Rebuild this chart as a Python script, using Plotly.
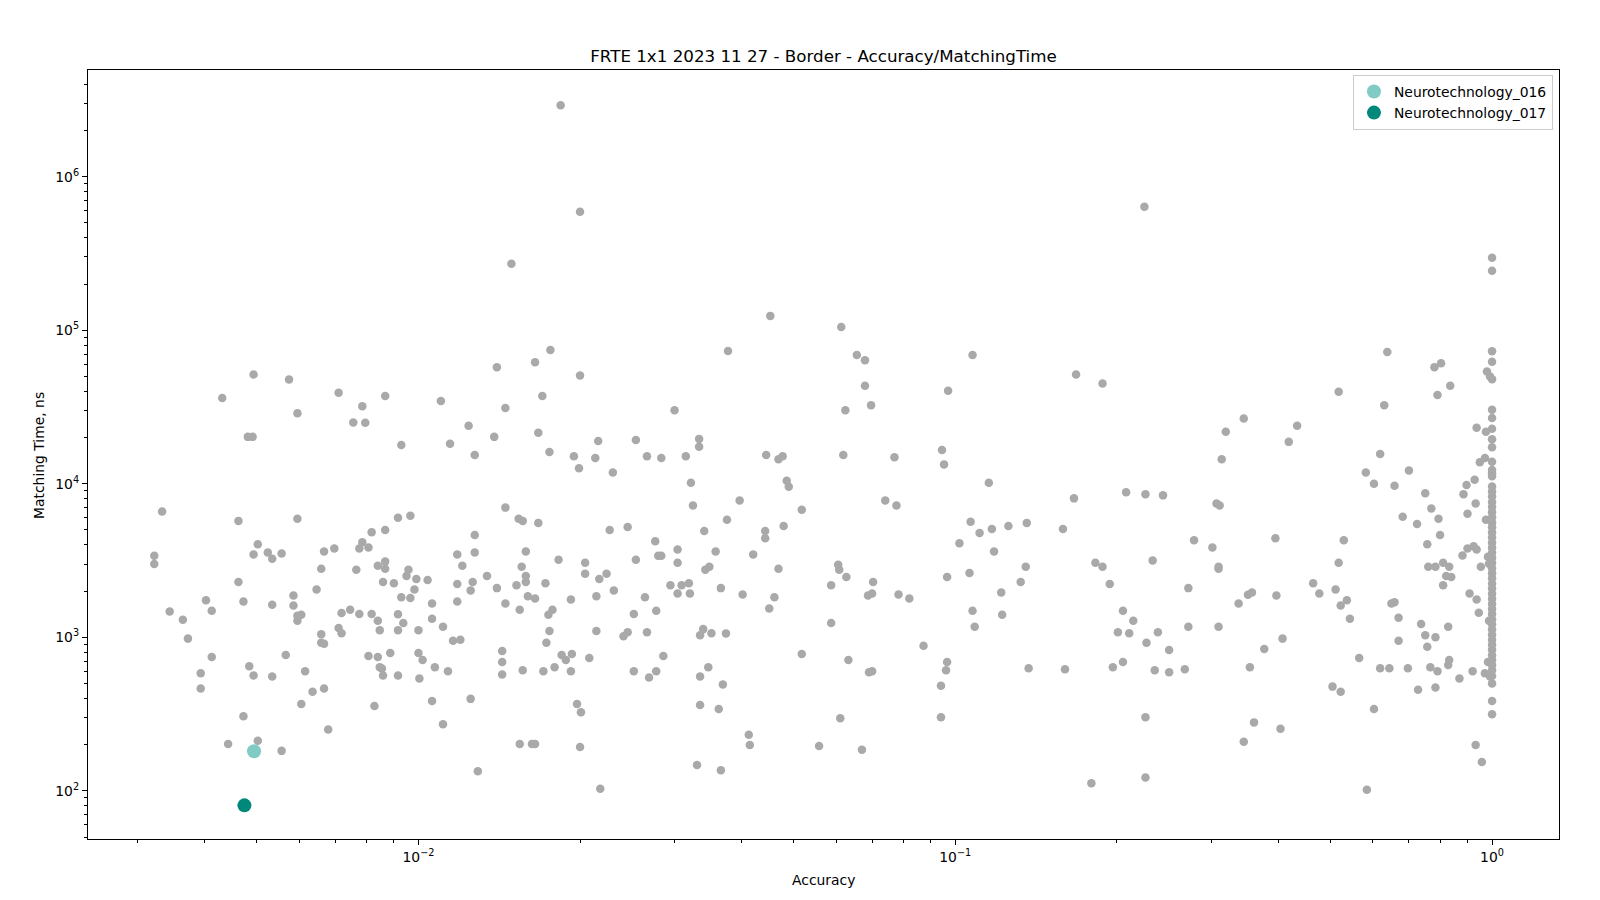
import plotly.graph_objects as go

# ---------------- data ----------------
# other algorithms, accuracy < 0.01
acc_low = [
    0.00322, 0.00322, 0.00333, 0.00344, 0.00364, 0.00372, 0.00393, 0.00393, 0.00402, 0.00412,
    0.00412, 0.00431, 0.00442, 0.00462, 0.00462, 0.00472, 0.00472, 0.00481, 0.00484, 0.00491,
    0.00493, 0.00493, 0.00493, 0.00502, 0.00502, 0.00524, 0.00534, 0.00534, 0.00534, 0.00556,
    0.00556, 0.00566, 0.00574, 0.00585, 0.00585, 0.00595, 0.00595, 0.00595, 0.00595, 0.00605,
    0.00605, 0.00615, 0.00635, 0.00646, 0.00659, 0.00659, 0.00659, 0.00667, 0.00667, 0.00667,
    0.00679, 0.00697, 0.0071, 0.0071, 0.00719, 0.00719, 0.00746, 0.00756, 0.00766, 0.00776,
    0.00786, 0.00786, 0.00776, 0.00807, 0.00796, 0.00807, 0.00818, 0.00818, 0.00828, 0.0084,
    0.0084, 0.00847, 0.0084, 0.00847, 0.00855, 0.00859, 0.00859, 0.00867, 0.00867, 0.00867,
    0.00867, 0.00886, 0.009, 0.00916, 0.00916, 0.00916, 0.00916, 0.00929, 0.00929, 0.00937,
    0.0095, 0.00958, 0.00966, 0.00966, 0.00983, 0.00991,
]
time_low = [
    3400, 3000, 6600, 1470, 1300, 980, 582, 463, 1740, 1490,
    744, 36200, 202, 5730, 2290, 1710, 306, 20200, 648, 20200,
    51500, 3460, 564, 4030, 212, 3570, 3250, 1630, 556, 3510,
    182, 767, 47700, 1870, 1610, 28800, 5910, 1380, 1280, 1400,
    368, 600, 442, 2050, 2790, 1047, 921, 3620, 907, 463,
    251, 3790, 39100, 1150, 1440, 1063, 1510, 25100, 2750, 1420,
    32000, 4160, 3790, 3850, 25000, 755, 4840, 1420, 357, 2920,
    1280, 1110, 744, 638, 625, 2290, 564, 37300, 4990, 3110,
    2790, 790, 2250, 6000, 1410, 1110, 564, 17900, 1820, 1240,
    2510, 2750, 6190, 1800, 2050, 2400,
]

# other algorithms, 0.01 <= accuracy < 0.03
acc_mid1 = [
    0.01, 0.01, 0.01004, 0.01018, 0.0104, 0.0106, 0.0106, 0.0106, 0.01073, 0.01101,
    0.01111, 0.01111, 0.01135, 0.01145, 0.0116, 0.01181, 0.01181, 0.01181, 0.01197, 0.01207,
    0.0124, 0.01251, 0.01262, 0.01251, 0.01273, 0.01273, 0.01273, 0.0129, 0.01342, 0.01384,
    0.014, 0.014, 0.01432, 0.01432, 0.01432, 0.01452, 0.01452, 0.01452, 0.0149, 0.01523,
    0.01537, 0.01544, 0.01544, 0.01557, 0.01564, 0.01564, 0.01585, 0.01585, 0.01585, 0.01599,
    0.01627, 0.01649, 0.01649, 0.01649, 0.01672, 0.01672, 0.01701, 0.01709, 0.01724, 0.01731,
    0.01761, 0.01754, 0.01746, 0.01754, 0.01777, 0.01793, 0.01824, 0.0184, 0.01848, 0.01882,
    0.01923, 0.01923, 0.01931, 0.01948, 0.01991, 0.02, 0.01974, 0.02, 0.02008, 0.02,
    0.02044, 0.02044, 0.02081, 0.02135, 0.02145, 0.02145, 0.02162, 0.02172, 0.02181, 0.02241,
    0.02271, 0.02302, 0.02312, 0.0241, 0.02453, 0.02453, 0.02519, 0.02519, 0.02541, 0.02541,
    0.02642, 0.02665, 0.02665, 0.02689, 0.02773, 0.02761, 0.02773, 0.02797, 0.02834, 0.02834,
    0.02859, 0.02947,
]
time_mid1 = [
    1110, 790, 539, 710, 2360, 385, 1660, 1320, 638, 34600,
    271, 1170, 600, 18200, 950, 2220, 1710, 3460, 965, 2920,
    23900, 2020, 2290, 397, 15400, 4630, 3570, 134, 2510, 20200,
    57300, 2090, 815, 689, 573, 6990, 1660, 31100, 271000, 2180,
    5910, 1510, 202, 2880, 5730, 609, 3620, 2510, 2290, 1850,
    202, 61900, 202, 1790, 5560, 21500, 37300, 600, 2250, 921,
    74400, 16100, 1400, 1100, 1510, 638, 3200, 2920000, 767, 710,
    600, 1760, 779, 15100, 12600, 50700, 368, 591000, 325, 193,
    3060, 2590, 732, 14700, 1850, 1100, 19000, 2400, 103, 2590,
    4990, 11840, 2020, 1015, 1080, 5230, 600, 1420, 19300, 3200,
    1820, 15100, 1080, 547, 600, 4220, 1490, 3400, 3400, 14700,
    755, 2180,
]

# other algorithms, 0.03 <= accuracy < 0.1
acc_mid2 = [
    0.03, 0.03039, 0.03039, 0.03039, 0.03092, 0.0319, 0.03204, 0.03148, 0.03218, 0.03246,
    0.03303, 0.03333, 0.03333, 0.03347, 0.03347, 0.03347, 0.03392, 0.03407, 0.03423, 0.03467,
    0.03483, 0.03514, 0.03578, 0.03626, 0.03659, 0.03659, 0.0369, 0.0374, 0.03756, 0.03773,
    0.03966, 0.04017, 0.04124, 0.04143, 0.04203, 0.04425, 0.04425, 0.04444, 0.04503, 0.04523,
    0.04603, 0.04685, 0.04685, 0.04769, 0.0479, 0.04853, 0.04896, 0.05177, 0.05177, 0.05576,
    0.05872, 0.05872, 0.06053, 0.06079, 0.06106, 0.06132, 0.06186, 0.06241, 0.06268, 0.06323,
    0.06556, 0.06701, 0.06789, 0.06789, 0.06878, 0.06908, 0.06969, 0.07, 0.0703, 0.07,
    0.07406, 0.07704, 0.07771, 0.0784, 0.08212, 0.08728, 0.09406, 0.09406, 0.09447, 0.0953,
    0.09656, 0.09614, 0.09656, 0.09698,
]
time_mid2 = [
    30100, 3060, 3730, 1930, 2180, 2250, 1930, 15100, 10150, 7210,
    147, 19600, 17400, 1030, 556, 362, 1130, 4920, 2750, 638,
    2880, 1063, 3620, 341, 136, 2090, 492, 1060, 5820, 73200,
    7790, 1900, 232, 199, 3460, 4920, 4420, 15400, 1540, 124000,
    1820, 14450, 2790, 15100, 5310, 10470, 9550, 6780, 779, 196,
    1240, 2180, 2970, 2750, 297, 105000, 15400, 30100, 2470, 710,
    68900, 185, 63800, 43500, 1870, 591, 32500, 1930, 2290, 600,
    7790, 14900, 7210, 1900, 1790, 880, 301, 484, 16600, 13370,
    2470, 609, 689, 40300,
]

# other algorithms, 0.1 <= accuracy < 1
acc_high = [
    0.1018, 0.1068, 0.1063, 0.1077, 0.1077, 0.1087, 0.111, 0.1155, 0.117, 0.1181,
    0.1218, 0.1223, 0.1256, 0.1324, 0.1353, 0.1359, 0.137, 0.1587, 0.1601, 0.1664,
    0.1679, 0.1793, 0.1824, 0.1881, 0.1881, 0.194, 0.1966, 0.2009, 0.2053, 0.2053,
    0.2081, 0.2109, 0.2146, 0.2251, 0.2261, 0.2261, 0.2271, 0.2261, 0.2332, 0.2353,
    0.2385, 0.2438, 0.2503, 0.2503, 0.2677, 0.2718, 0.2718, 0.2785, 0.3013, 0.3067,
    0.3094, 0.3094, 0.3108, 0.3094, 0.3136, 0.3191, 0.3372, 0.3447, 0.3447, 0.351,
    0.3539, 0.357, 0.3602, 0.3764, 0.3948, 0.3965, 0.4035, 0.4071, 0.4181, 0.4334,
    0.4642, 0.4767, 0.5044, 0.5111, 0.5179, 0.5179, 0.5224, 0.5224, 0.5294, 0.5364,
    0.5435, 0.5656, 0.5819, 0.5845, 0.6026, 0.6026, 0.6188, 0.6188, 0.6297, 0.6381,
    0.6437, 0.6494, 0.6581, 0.6581, 0.6697, 0.6697, 0.6816, 0.6969, 0.7, 0.7249,
    0.7281, 0.7377, 0.7508, 0.7508, 0.7574, 0.7607, 0.7574, 0.7674, 0.7707, 0.781,
    0.7844, 0.7844, 0.7844, 0.7914, 0.7914, 0.7948, 0.8, 0.8035, 0.8106, 0.8106,
    0.8213, 0.8285, 0.8321, 0.8321, 0.8285, 0.8358, 0.8395, 0.8694, 0.8809, 0.8847,
    0.8964, 0.9, 0.9, 0.908, 0.924, 0.92, 0.928, 0.932, 0.936, 0.936,
    0.932, 0.936, 0.9447, 0.9488, 0.953, 0.9572, 0.9698, 0.974, 0.974, 0.9783,
    0.987, 0.9826, 0.9826, 0.9913, 0.987, 0.9913, 0.97,
]
time_high = [
    4090, 5650, 2620, 68900, 1490, 1170, 4770, 10150, 5070, 3620,
    1960, 1400, 5310, 2290, 2880, 5560, 628, 5070, 619, 8030,
    51500, 112, 3060, 2880, 44900, 2220, 638, 1080, 689, 1490,
    8800, 1063, 1280, 638000, 8530, 301, 921, 122, 3160, 609,
    1080, 8400, 827, 591, 619, 2090, 1170, 4290, 3850, 7440,
    1170, 2880, 7210, 2790, 14450, 21800, 1660, 26600, 209, 1890,
    638, 1960, 279, 840, 4420, 1870, 254, 980, 18740, 23900,
    2250, 1930, 477, 2050, 39700, 3060, 442, 1610, 4290, 1740,
    1320, 732, 11840, 101.5, 10000, 341, 15600, 628, 32500, 72100,
    628, 1660, 9700, 1690, 950, 1340, 6090, 628, 12200, 5470,
    455, 1220, 8660, 1030, 866, 2880, 4030, 638, 6890, 57300,
    2880, 470, 1000, 600, 37900, 5910, 4630, 60900, 3060, 2180,
    2510, 1170, 2880, 710, 660, 43500, 2470, 539, 3410, 8530,
    9800, 6380, 3790, 1930, 3910, 600, 10630, 7440, 3730, 1760,
    199, 23200, 1445, 13800, 2880, 154, 582, 21800, 5820, 53900,
    1280, 689, 3350, 49900, 3010, 556, 14700,
]

# other algorithms with accuracy = 1.0
acc_perfect = [
    1.0, 1.0, 1.0, 1.0, 1.0, 1.0, 1.0, 1.0, 1.0, 1.0,
    1.0, 1.0, 1.0, 1.0, 1.0, 1.0, 1.0, 1.0, 1.0, 1.0,
    1.0, 1.0, 1.0, 1.0, 1.0, 1.0, 1.0, 1.0, 1.0, 1.0,
    1.0, 1.0, 1.0, 1.0, 1.0, 1.0, 1.0, 1.0, 1.0, 1.0,
    1.0, 1.0, 1.0, 1.0, 1.0, 1.0, 1.0, 1.0, 1.0, 1.0,
    1.0, 1.0, 1.0, 1.0, 1.0,
]
time_perfect = [
    297000, 244000, 73000, 62300, 48000, 30300, 26800, 22800, 19500, 17300,
    13900, 12300, 11700, 11200, 9600, 8900, 8250, 7600, 7050, 6530,
    6050, 5600, 5200, 4820, 4460, 4130, 3830, 3550, 3290, 3050,
    2820, 2610, 2420, 2240, 2080, 1920, 1780, 1650, 1530, 1420,
    1310, 1215, 1125, 1040, 965, 895, 830, 765, 710, 660,
    610, 560, 500, 385, 315,
]

# highlighted algorithms
highlight_names = ["Neurotechnology_016", "Neurotechnology_017"]
highlight_acc = [0.00494, 0.00474]
highlight_time = [181, 80.4]
highlight_colors = ["#80cbc4", "#00897b"]

# axis ticks
x_major = [0.01, 0.1, 1]
x_major_text = ["10<sup>−2</sup>", "10<sup>−1</sup>", "10<sup>0</sup>"]
y_major = [1e2, 1e3, 1e4, 1e5, 1e6]
y_major_text = ["10<sup>2</sup>", "10<sup>3</sup>", "10<sup>4</sup>", "10<sup>5</sup>", "10<sup>6</sup>"]
x_minor = [m * 10.0 ** k for k in range(-3, 1) for m in range(2, 10)]
y_minor = [m * 10.0 ** k for k in range(1, 7) for m in range(2, 10)]

# ---------------- figure ----------------
other_acc = acc_low + acc_mid1 + acc_mid2 + acc_high + acc_perfect
other_time = time_low + time_mid1 + time_mid2 + time_high + time_perfect

fig = go.Figure()
fig.add_trace(go.Scatter(
    x=other_acc, y=other_time, mode="markers",
    marker=dict(color="#a9a9a9", size=8.5, line=dict(width=0)),
    showlegend=False, name="others",
))
for name, xa, yt, col in zip(highlight_names, highlight_acc, highlight_time, highlight_colors):
    fig.add_trace(go.Scatter(
        x=[xa], y=[yt], mode="markers", name=name,
        marker=dict(color=col, size=14, line=dict(width=0)),
    ))

FONT = "DejaVu Sans"
axis_common = dict(
    type="log", showgrid=False, zeroline=False,
    showline=True, linecolor="black", linewidth=1.1, mirror=True,
    ticks="outside", ticklen=5, tickwidth=1.1, tickcolor="black",
    tickfont=dict(family=FONT, size=13.9, color="black"),
    tickmode="array",
)
fig.update_xaxes(
    **axis_common, range=[-2.6156, 0.1247],
    tickvals=x_major, ticktext=x_major_text,
    minor=dict(tickmode="array", tickvals=x_minor, ticks="outside",
               ticklen=3, tickwidth=0.8, tickcolor="black", showgrid=False),
)
fig.update_yaxes(
    **axis_common, range=[1.686, 6.695],
    tickvals=y_major, ticktext=y_major_text,
    minor=dict(tickmode="array", tickvals=y_minor, ticks="outside",
               ticklen=3, tickwidth=0.8, tickcolor="black", showgrid=False),
)

fig.update_layout(
    width=1600, height=900,
    margin=dict(l=88, r=41, t=70, b=61, autoexpand=False),
    paper_bgcolor="white", plot_bgcolor="white",
    font=dict(family=FONT, size=13.9, color="black"),
    title=dict(
        text="FRTE 1x1 2023 11 27 - Border - Accuracy/MatchingTime",
        x=0.5, xref="paper", xanchor="center",
        y=1 - 56 / 900, yref="container", yanchor="middle",
        font=dict(family=FONT, size=16.7, color="black"),
    ),
    legend=dict(
        x=0.9959, xanchor="right", y=0.9935, yanchor="top",
        bgcolor="rgba(255,255,255,0.8)", bordercolor="#cccccc", borderwidth=1,
        font=dict(family=FONT, size=13.9, color="black"),
    ),
    annotations=[
        dict(text="Accuracy", x=0.5, xref="paper", y=-(880 - 839) / 769, yref="paper",
             showarrow=False, xanchor="center", yanchor="middle",
             font=dict(family=FONT, size=13.9, color="black")),
        dict(text="Matching Time, ns", x=-(88 - 39) / 1471, xref="paper",
             y=(839 - 456) / 769, yref="paper", textangle=-90,
             showarrow=False, xanchor="center", yanchor="middle",
             font=dict(family=FONT, size=13.9, color="black")),
    ],
)

fig.write_html(
    "out.html",
    config={"displayModeBar": False},
    post_script="document.body.style.margin='0';document.body.style.overflow='hidden';",
)
